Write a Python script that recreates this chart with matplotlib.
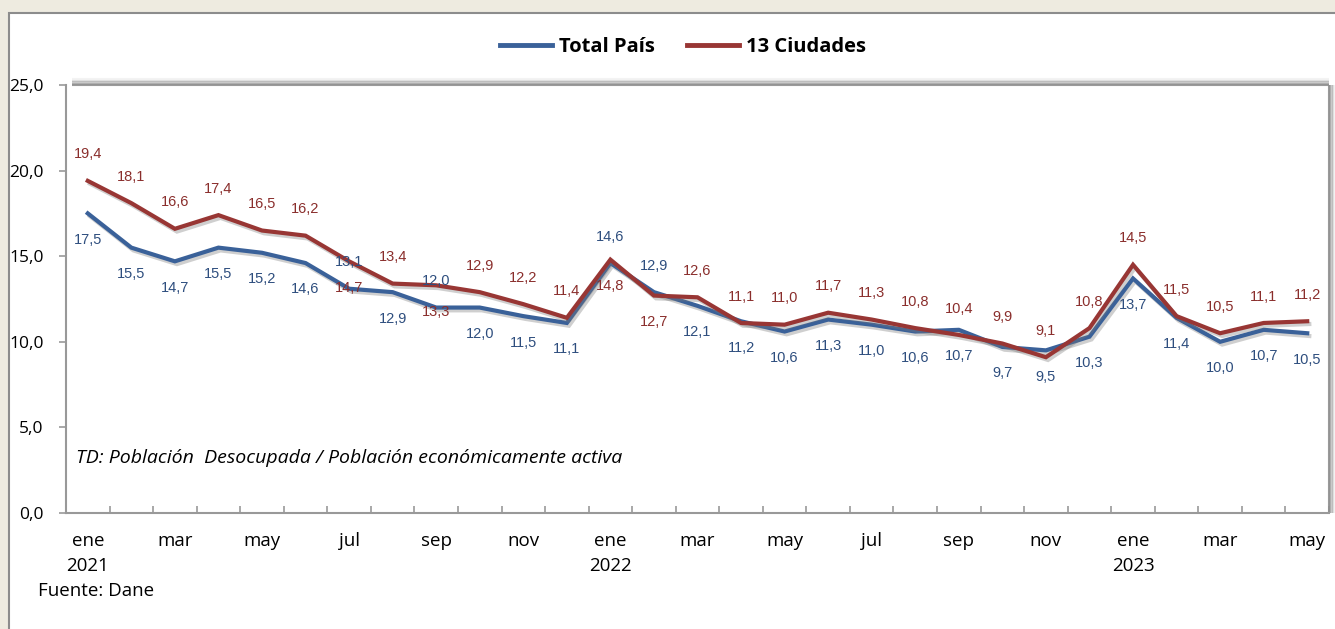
import matplotlib.pyplot as plt
import matplotlib.patheffects as pe
from matplotlib.patches import Rectangle
from matplotlib.lines import Line2D
import numpy as np

# Tasa de desempleo mensual, ene 2021 - may 2023
meses = ['ene', 'feb', 'mar', 'abr', 'may', 'jun', 'jul', 'ago', 'sep', 'oct', 'nov', 'dic',
         'ene', 'feb', 'mar', 'abr', 'may', 'jun', 'jul', 'ago', 'sep', 'oct', 'nov', 'dic',
         'ene', 'feb', 'mar', 'abr', 'may']
anios = {0: '2021', 12: '2022', 24: '2023'}

total_pais = [17.5, 15.5, 14.7, 15.5, 15.2, 14.6, 13.1, 12.9, 12.0, 12.0, 11.5, 11.1,
              14.6, 12.9, 12.1, 11.2, 10.6, 11.3, 11.0, 10.6, 10.7, 9.7, 9.5, 10.3,
              13.7, 11.4, 10.0, 10.7, 10.5]
ciudades_13 = [19.4, 18.1, 16.6, 17.4, 16.5, 16.2, 14.7, 13.4, 13.3, 12.9, 12.2, 11.4,
               14.8, 12.7, 12.6, 11.1, 11.0, 11.7, 11.3, 10.8, 10.4, 9.9, 9.1, 10.8,
               14.5, 11.5, 10.5, 11.1, 11.2]

# label placement: 1 = above the line, -1 = below
pos_total = [-1, -1, -1, -1, -1, -1, 1, -1, 1, -1, -1, -1,
             1, 1, -1, -1, -1, -1, -1, -1, -1, -1, -1, -1,
             -1, -1, -1, -1, -1]
pos_ciud = [1, 1, 1, 1, 1, 1, -1, 1, -1, 1, 1, 1,
            -1, -1, 1, 1, 1, 1, 1, 1, 1, 1, 1, 1,
            1, 1, 1, 1, 1]

azul = '#3A6199'
rojo = '#983634'
azul_txt = '#2E4E7E'
rojo_txt = '#8A2E2C'

fig = plt.figure(figsize=(13.35, 6.29), dpi=100)
fig.patch.set_facecolor('#EEEBE0')

# white panel with grey border
fig.patches.append(Rectangle((9 / 1335, -0.01), 1.0, 1.01 - 13 / 629, transform=fig.transFigure,
                             facecolor='white', edgecolor='#8C8C8C', linewidth=1.5, zorder=-10))

ax = fig.add_axes([66 / 1335, 1 - 513 / 629, (1329 - 66) / 1335, (513 - 85) / 629])
ax.set_facecolor('none')

x = np.arange(len(meses))
sombra = [pe.SimpleLineShadow(offset=(1.5, -2), shadow_color='#777777', alpha=0.35), pe.Normal()]
ax.plot(x, total_pais, color=azul, linewidth=3, path_effects=sombra,
        solid_joinstyle='miter', zorder=3)
ax.plot(x, ciudades_13, color=rojo, linewidth=3, path_effects=sombra,
        solid_joinstyle='miter', zorder=4)

for xi, v, p in zip(x, total_pais, pos_total):
    ax.annotate(f'{v:.1f}'.replace('.', ','), (xi, v), xytext=(0, 19 * p), textcoords='offset points',
                ha='center', va='center', fontsize=10.5, color=azul_txt, family='Liberation Sans', zorder=5)
for xi, v, p in zip(x, ciudades_13, pos_ciud):
    ax.annotate(f'{v:.1f}'.replace('.', ','), (xi, v), xytext=(0, 19 * p), textcoords='offset points',
                ha='center', va='center', fontsize=10.5, color=rojo_txt, family='Liberation Sans', zorder=5)

ax.set_xlim(-0.5, len(meses) - 0.5)
ax.set_ylim(0, 25)

# category axis: tick marks between months, labels every two months
ax.set_xticks(np.arange(-0.5, len(meses), 1), minor=True)
ax.set_xticks(x[::2])
ax.set_xticklabels([meses[i] + ('\n' + anios[i] if i in anios else '') for i in x[::2]],
                   family='Open Sans', fontsize=13.5, linespacing=1.45)
ax.tick_params(axis='x', which='major', length=0, pad=14)
ax.tick_params(axis='x', which='minor', direction='in', length=5, color='#999999', width=1.2)

ax.set_yticks(np.arange(0, 26, 5))
ax.set_yticklabels([f'{v:.1f}'.replace('.', ',') for v in np.arange(0, 26, 5)],
                   family='Open Sans', fontsize=12.5)
ax.tick_params(axis='y', direction='out', length=5, color='#999999', width=1.2, pad=11)

for s in ['left', 'bottom']:
    ax.spines[s].set_color('#999999')
    ax.spines[s].set_linewidth(1.5)
ax.spines['top'].set_visible(False)
ax.spines['right'].set_visible(False)

# soft shadow along the top and right edges of the plot area
for i, a in enumerate([0.9, 0.7, 0.45, 0.25, 0.1]):
    ax.plot([0.005, 1.0], [1 + i * 0.0035, 1 + i * 0.0035], transform=ax.transAxes, color='#909090',
            alpha=a, linewidth=1.5, clip_on=False, solid_capstyle='butt')
    ax.plot([1 + i * 0.0011, 1 + i * 0.0011], [0.0, 1.0], transform=ax.transAxes, color='#909090',
            alpha=a, linewidth=1.5, clip_on=False, solid_capstyle='butt')

ax.text(0.008, 0.128, 'TD: Población  Desocupada / Población económicamente activa',
        transform=ax.transAxes, fontsize=14, style='italic', family='Open Sans', va='center')

handles = [Line2D([], [], color=azul, linewidth=3.5), Line2D([], [], color=rojo, linewidth=3.5)]
fig.legend(handles, ['Total País', '13 Ciudades'], loc='center',
           bbox_to_anchor=(683 / 1335, 1 - 47 / 629), ncol=2, frameon=False,
           prop={'family': 'Open Sans', 'weight': 'bold', 'size': 14.5},
           handlelength=2.6, columnspacing=1.6, handletextpad=0.35)

fig.text(38 / 1335, 1 - 591 / 629, 'Fuente: Dane', family='Open Sans', fontsize=13.5, va='center')

fig.savefig('out.png', dpi=100, facecolor=fig.get_facecolor())
